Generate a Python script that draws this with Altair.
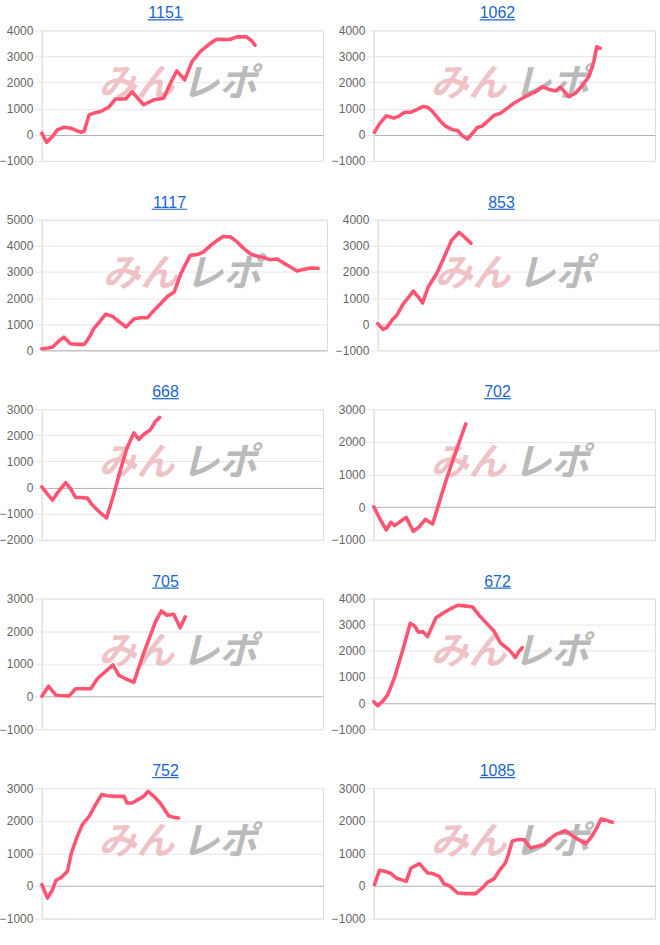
import altair as alt
import pandas as pd

# ---- data (x = relative position in session 0..100, y = difference) ----
titles = ["1151", "1062", "1117", "853", "668", "702", "705", "672", "752", "1085"]

t_1151 = [0, 1.7, 3.8, 5.5, 7.9, 10.3, 13.8, 15.0, 16.8, 18.5, 20.9, 23.8, 26.2, 29.8, 32.1, 36.2, 39.8, 43.3, 45.7, 48.0, 50.8, 53.4, 56.3, 59.9, 62.2, 66.9, 69.3, 72.8, 74.6, 75.8]
v_1151 = [60, -290, -60, 190, 290, 250, 100, 130, 760, 830, 890, 1060, 1370, 1370, 1650, 1150, 1340, 1400, 1970, 2450, 2100, 2800, 3180, 3500, 3660, 3650, 3750, 3750, 3600, 3430]

t_1062 = [0.2, 2.0, 4.4, 7.1, 9.1, 10.9, 13.2, 15.0, 17.4, 19.1, 20.9, 23.3, 25.4, 28.0, 29.8, 31.5, 33.3, 35.1, 36.8, 38.6, 41.0, 42.7, 45.1, 47.5, 49.8, 52.2, 55.1, 57.5, 59.9, 62.2, 64.6, 66.4, 69.3, 71.7, 74.0, 76.6, 78.2, 79.3, 80.5]
v_1062 = [90, 420, 725, 640, 725, 865, 865, 950, 1080, 1055, 890, 570, 340, 190, 165, -40, -165, 60, 280, 340, 570, 740, 830, 1020, 1210, 1360, 1530, 1650, 1845, 1740, 1680, 1820, 1460, 1590, 1870, 2250, 2800, 3370, 3310]

t_1117 = [0, 2.1, 3.8, 5.6, 7.7, 10.0, 12.0, 14.9, 16.7, 18.2, 20.2, 22.3, 24.8, 27.2, 29.5, 32.4, 34.7, 37.1, 38.8, 41.7, 44.1, 46.4, 48.7, 52.0, 54.5, 56.6, 59.2, 61.5, 63.6, 66.2, 68.5, 70.9, 73.0, 75.5, 77.9, 80.2, 82.5, 84.8, 87.2, 89.5, 91.8, 94.2, 96.9]
v_1117 = [60, 90, 130, 320, 510, 255, 230, 230, 510, 830, 1085, 1380, 1300, 1085, 890, 1210, 1250, 1250, 1470, 1790, 2070, 2230, 2930, 3635, 3670, 3760, 4020, 4210, 4360, 4340, 4150, 3890, 3700, 3600, 3545, 3470, 3500, 3340, 3190, 3040, 3100, 3150, 3140]

t_853 = [0, 1.8, 3.2, 5.0, 6.7, 9.1, 11.2, 12.6, 14.4, 15.9, 17.9, 20.9, 23.3, 26.2, 28.9, 30.9, 33.1]
v_853 = [25, -200, -130, 150, 340, 790, 1070, 1270, 1040, 815, 1425, 1930, 2500, 3210, 3520, 3330, 3100]

t_668 = [0, 2.0, 3.8, 6.1, 8.5, 10.3, 12.0, 13.8, 16.2, 17.9, 20.3, 23.0, 25.6, 28.0, 30.3, 32.7, 34.5, 36.2, 38.6, 40.4, 41.9]
v_668 = [25, -250, -480, -125, 190, -60, -380, -380, -405, -660, -920, -1165, -250, 700, 1520, 2090, 1840, 2030, 2215, 2530, 2685]

t_702 = [0, 2.0, 4.4, 6.1, 7.3, 9.1, 11.5, 14.0, 16.2, 18.3, 20.9, 25.6, 29.2, 32.7]
v_702 = [10, -335, -700, -465, -565, -465, -315, -740, -600, -375, -515, 800, 1710, 2550]

t_705 = [0, 2.4, 5.0, 6.7, 9.7, 12.0, 15.0, 17.4, 19.7, 22.7, 25.3, 27.4, 29.8, 32.7, 36.2, 40.4, 42.5, 44.5, 46.9, 49.2, 51.0]
v_705 = [10, 315, 40, 30, 20, 240, 240, 240, 545, 770, 970, 650, 545, 435, 1325, 2290, 2620, 2490, 2520, 2105, 2440]

t_672 = [0, 1.4, 3.2, 5.0, 7.3, 10.3, 12.9, 14.4, 15.9, 17.4, 19.1, 20.3, 22.1, 24.4, 27.4, 29.8, 32.1, 35.1, 37.4, 39.8, 42.7, 45.1, 48.1, 50.4, 51.6, 52.8]
v_672 = [50, -100, 75, 330, 960, 2040, 3050, 2960, 2710, 2735, 2545, 2835, 3265, 3430, 3620, 3745, 3720, 3680, 3365, 3090, 2760, 2290, 2040, 1745, 1975, 2125]

t_752 = [0, 2.0, 3.8, 5.0, 6.7, 9.1, 10.5, 12.6, 14.4, 16.8, 19.1, 21.3, 23.3, 26.2, 29.2, 30.3, 32.1, 34.5, 36.2, 37.8, 39.8, 41.6, 43.3, 45.1, 46.9, 48.6]
v_752 = [40, -370, -110, 175, 245, 450, 1010, 1520, 1880, 2130, 2490, 2800, 2765, 2745, 2745, 2540, 2540, 2660, 2745, 2900, 2745, 2590, 2390, 2150, 2100, 2080]

t_1085 = [0.2, 2.0, 3.8, 6.1, 7.9, 9.7, 11.5, 13.2, 16.2, 19.1, 20.9, 23.3, 25.0, 26.8, 29.8, 32.7, 36.2, 38.6, 40.4, 42.7, 44.5, 46.9, 48.0, 49.2, 51.0, 53.4, 55.7, 58.1, 60.5, 62.2, 64.6, 68.1, 70.5, 72.8, 75.4, 77.5, 79.3, 80.8, 82.8, 84.8]
v_1085 = [40, 480, 450, 380, 245, 195, 140, 550, 685, 400, 380, 295, 60, 10, -215, -235, -235, -60, 110, 215, 450, 725, 1010, 1370, 1420, 1420, 1165, 1215, 1265, 1420, 1570, 1695, 1540, 1420, 1295, 1520, 1775, 2050, 2010, 1950]

y_domains = {
    "1151": [-1000, 4000], "1062": [-1000, 4000], "1117": [0, 5000], "853": [-1000, 4000],
    "668": [-2000, 3000], "702": [-1000, 3000], "705": [-1000, 3000], "672": [-1000, 4000],
    "752": [-1000, 3000], "1085": [-1000, 3000],
}
series = {
    "1151": (t_1151, v_1151), "1062": (t_1062, v_1062), "1117": (t_1117, v_1117),
    "853": (t_853, v_853), "668": (t_668, v_668), "702": (t_702, v_702),
    "705": (t_705, v_705), "672": (t_672, v_672), "752": (t_752, v_752),
    "1085": (t_1085, v_1085),
}

LINE = "#ff5472"
GRID = "#e6e6e6"
LINK = "#1a66cc"
H = 131


def panel(name, plot_left=41):
    t, v = series[name]
    lo, hi = y_domains[name]
    W = 323 - plot_left
    df = pd.DataFrame({"t": t, "v": v})
    ticks = list(range(lo, hi + 1, 1000))

    yenc = alt.Y(
        "v:Q",
        scale=alt.Scale(domain=[lo, hi], nice=False, zero=False),
        axis=alt.Axis(
            values=ticks, title=None, format="d", tickSize=8, tickColor=GRID,
            labelPadding=1, labelColor="#666666", labelFontSize=12,
            labelFont="Liberation Sans", domain=False,
            gridColor=alt.condition("datum.value == 0", alt.value("#b3b3b3"), alt.value(GRID)),
        ),
    )
    xenc = alt.X("t:Q", scale=alt.Scale(domain=[0, 100], nice=False), axis=None)

    one = pd.DataFrame({"k": [name]})
    cx_wm = 182 - plot_left
    wm1 = alt.Chart(one).mark_text(
        text="みん", font="Noto Sans CJK JP", fontSize=38, fontWeight="bold",
        fontStyle="italic", color="#efc3c6", baseline="middle", align="center",
    ).encode(x=alt.value(cx_wm - 46), y=alt.value(55))
    wm2 = alt.Chart(one).mark_text(
        text="レポ", font="Noto Sans CJK JP", fontSize=38, fontWeight="bold",
        fontStyle="italic", color="#bababa", baseline="middle", align="center",
    ).encode(x=alt.value(cx_wm + 37), y=alt.value(55))

    vline = alt.Chart(one).mark_rule(color=GRID, strokeWidth=1).encode(
        x=alt.value(0), y=alt.value(0), y2=alt.value(H)
    )

    line = alt.Chart(df).mark_line(
        color=LINE, strokeWidth=3.6, strokeJoin="round", strokeCap="round"
    ).encode(x=xenc, y=yenc)

    cx_t = 165 - plot_left
    title = alt.Chart(one).mark_text(
        text=name, font="Liberation Sans", fontSize=16, color=LINK,
        baseline="alphabetic", align="center",
    ).encode(x=alt.value(cx_t), y=alt.value(-12))
    tw = len(name) * 8.9
    uline = alt.Chart(one).mark_rule(color=LINK, strokeWidth=1.2).encode(
        x=alt.value(cx_t - tw / 2), x2=alt.value(cx_t + tw / 2),
        y=alt.value(-10.5),
    )

    return alt.layer(wm1, wm2, vline, line, title, uline).properties(width=W, height=H)


rows = []
for i in range(0, 10, 2):
    a, b = titles[i], titles[i + 1]
    left = panel(a, 37 if a == "1117" else 41)
    right = panel(b)
    rows.append(alt.hconcat(left, right, spacing=6))

chart = alt.vconcat(*rows, spacing=26).properties(
    padding={"left": -2, "top": 3, "right": 0, "bottom": 0}
).configure_view(stroke=None).configure(background="white")

chart.save("out.html", embed_options={"renderer": "svg", "actions": False})
